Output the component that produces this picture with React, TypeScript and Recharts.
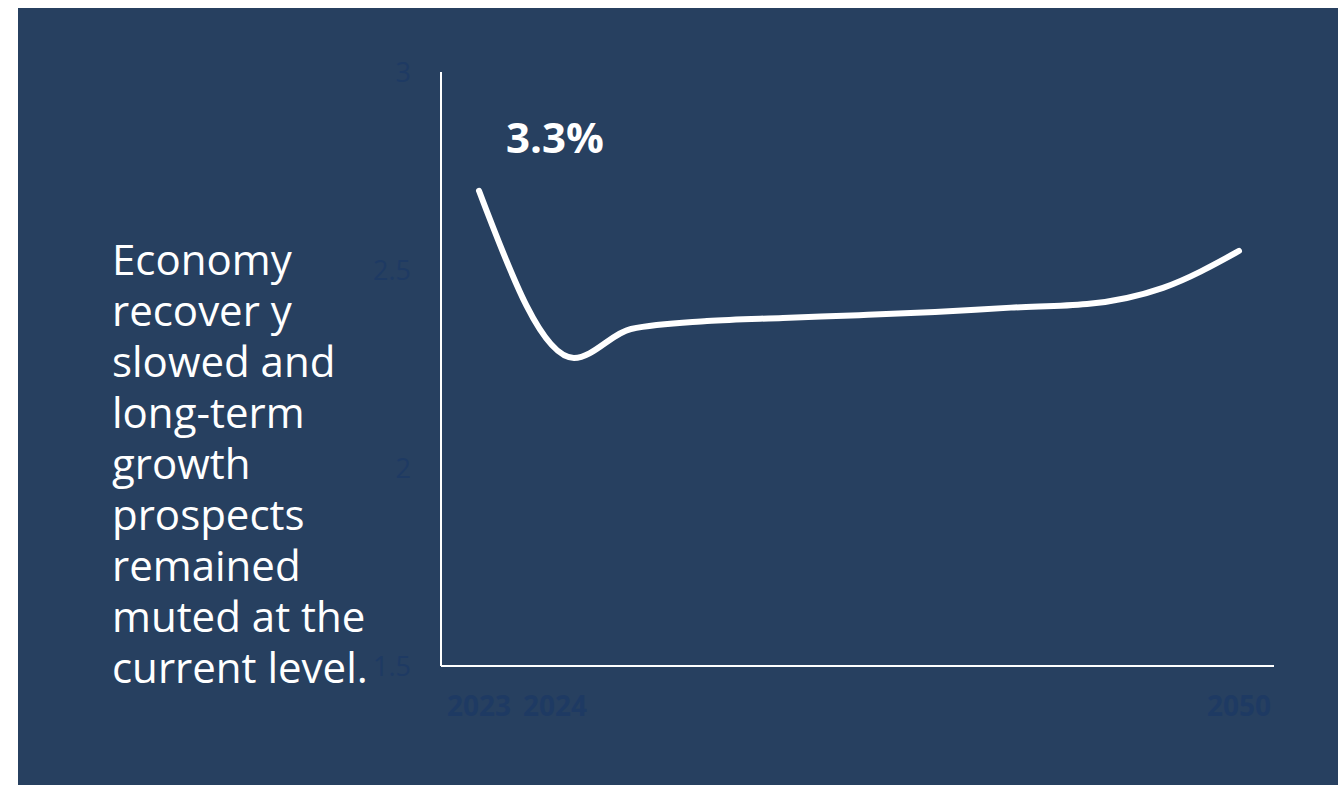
import React from "react";
import { LineChart, Line, XAxis, YAxis } from "recharts";

const xIndex = [0, 1.25, 2, 3, 4, 5, 6, 7, 8, 9, 10];
const growth = [2.7, 2.278, 2.351, 2.371, 2.379, 2.386, 2.394, 2.405, 2.414, 2.455, 2.548];
const xTickPositions = [0, 1, 10];
const xTickLabels = ["2023", "2024", "2050"];
const yTicks = [1.5, 2, 2.5, 3];
const headline = "3.3%";
const noteLines = [
  "Economy",
  "recover y",
  "slowed and",
  "long-term",
  "growth",
  "prospects",
  "remained",
  "muted at the",
  "current level.",
];

const data = xIndex.map((x, i) => ({ x, v: growth[i] }));

const BG = "#274060";
const TICK = "#1e3a63";
const FONT = "'Open Sans', 'Noto Sans', sans-serif";

export default function App() {
  return (
    <div style={{ position: "relative", width: 1338, height: 785 }}>
      <style>{`body{margin:0;overflow:hidden}`}</style>
      <div
        style={{
          position: "absolute",
          left: 18,
          top: 8,
          width: 1320,
          height: 777,
          background: BG,
          fontFamily: FONT,
        }}
      >
        <div
          style={{
            position: "absolute",
            left: 94,
            top: 225,
            color: "#ffffff",
            fontSize: 42,
            lineHeight: "51px",
            whiteSpace: "nowrap",
          }}
        >
          {noteLines.map((l, i) => (
            <div key={i}>{l}</div>
          ))}
        </div>
        <div style={{ position: "absolute", left: 0, top: 0 }}>
          <LineChart
            width={1320}
            height={777}
            data={data}
            margin={{ top: 64, right: 64, bottom: 59, left: 0 }}
          >
            <XAxis
              dataKey="x"
              type="number"
              domain={[0, 10]}
              ticks={xTickPositions}
              tickFormatter={(v: number) => xTickLabels[xTickPositions.indexOf(v)] ?? ""}
              padding={{ left: 38, right: 35 }}
              axisLine={{ stroke: "#ffffff", strokeWidth: 2 }}
              tickLine={false}
              tickSize={0}
              tickMargin={30}
              height={60}
              tick={{ fill: TICK, fontSize: 28, fontWeight: 700, fontFamily: FONT }}
            />
            <YAxis
              type="number"
              domain={[1.5, 3]}
              ticks={yTicks}
              width={423}
              axisLine={{ stroke: "#ffffff", strokeWidth: 2 }}
              tickLine={false}
              tickSize={0}
              tickMargin={30}
              tick={{ fill: TICK, fontSize: 27, fontFamily: FONT }}
            />
            <Line
              dataKey="v"
              type="monotone"
              stroke="#ffffff"
              strokeWidth={6}
              strokeLinecap="round"
              dot={false}
              activeDot={false}
              isAnimationActive={false}
            />
          </LineChart>
        </div>
        <div
          style={{
            position: "absolute",
            left: 488,
            top: 104,
            color: "#ffffff",
            fontSize: 42,
            fontWeight: 700,
            lineHeight: "50px",
          }}
        >
          {headline}
        </div>
      </div>
    </div>
  );
}
